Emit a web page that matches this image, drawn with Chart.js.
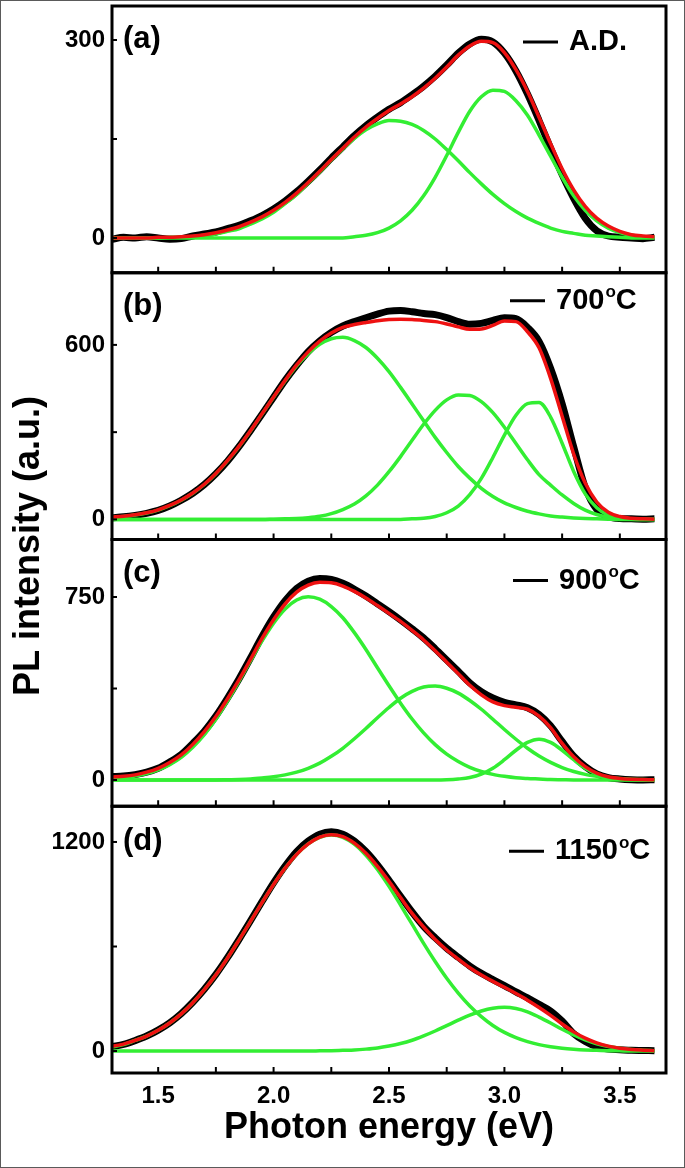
<!DOCTYPE html>
<html lang="en">
<head>
<meta charset="UTF-8">
<title>PL spectra</title>
<style>
    body { margin: 0; background: #fff; }
    #wrap { position: relative; width: 685px; height: 1168px; }
</style>
</head>
<body>
<div id="wrap"><canvas id="chart" width="685" height="1168"></canvas></div>

<script src="https://cdn.jsdelivr.net/npm/chart.js"></script>
<script>
// photon energy grid (eV)
const energy = [1.30,1.35,1.40,1.45,1.50,1.55,1.60,1.65, 1.70,1.75,1.80,1.85,1.90,1.95,2.00,2.05,
                2.10,2.15,2.20,2.25,2.30,2.35,2.40,2.45, 2.50,2.55,2.60,2.65,2.70,2.75,2.80,2.85,
                2.90,2.95,3.00,3.05,3.10,3.15,3.20,3.25, 3.30,3.35,3.40,3.45,3.50,3.55,3.60,3.65];

// (a) A.D.
const dataA  = [-2,1,0,2,0,-2,-1,3, 6,9,14,19,26,34,44,56, 70,86,103,121,138,155,170,183, 195,205,217,230,245,262,280,294, 301,297,280,253,218,178,136,96, 60,30,11,3,1,0,-1,1];
const fitA   = [0,0,0,0,1,1,2,3, 5,8,12,17,24,32,42,54, 68,84,101,119,136,153,168,181, 193,203,214,227,242,259,277,291, 298,296,281,255,222,183,143,105, 73,48,30,18,10,5,3,2];
const peakA1 = [0,0,0,0,0,1,1,2, 4,6,10,14,21,29,39,52, 66,83,100,118,135,151,164,173, 178,177,172,163,150,134,117,99, 82,66,52,40,30,22,15,10, 7,4,3,2,1,0,0,0];
const peakA2 = [0,0,0,0,0,0,0,0, 0,0,0,0,0,0,0,0, 0,0,0,0,0,2,4,8, 15,26,42,64,92,125,160,192, 214,224,222,208,186,156,124,92, 64,42,26,15,8,4,2,1];

// (b) 700 C
const dataB  = [6,9,14,21,31,46,66,90, 120,157,200,250,305,362,420,478, 530,577,614,643,665,680,693,706, 716,718,714,708,704,694,680,671, 674,684,693,690,660,612,520,398, 250,110,35,10,3,2,1,2];
const fitB   = [8,11,16,23,33,48,67,91, 121,158,202,251,305,363,421,478, 531,576,613,641,660,670,677,683, 687,688,687,684,680,672,662,654, 655,667,682,680,645,590,485,355, 225,125,60,25,10,4,2,1];
const peakB1 = [6,10,15,22,32,47,66,90, 120,157,201,250,304,362,420,476, 528,570,602,621,626,615,591,554, 508,454,397,339,282,230,182,142, 107,79,57,41,28,19,12,8, 5,3,2,1,0,0,0,0];
const peakB2 = [0,0,0,0,0,0,0,0, 0,0,0,0,0,0,1,2, 3,6,11,20,34,53,81,118, 164,216,272,327,375,411,428,426, 405,367,317,261,205,154,118,84, 55,32,17,8,4,2,1,0];
const peakB3 = [0,0,0,0,0,0,0,0, 0,0,0,0,0,0,0,0, 0,0,0,0,0,0,0,0, 0,0,2,4,10,23,46,85, 141,213,290,358,398,402,352,262, 165,88,40,14,4,1,0,0];

// (c) 900 C
const dataC  = [14,16,22,32,48,74,105,150, 200,262,335,414,500,588,668,735, 785,815,826,822,806,782,754,722, 690,656,620,582,538,492,446,398, 362,336,318,308,296,268,222,158, 98,55,25,10,4,1,0,1];
const fitC   = [12,15,21,32,48,72,103,146, 198,260,332,410,494,580,657,722, 770,799,810,808,795,773,746,715, 683,650,613,574,530,483,436,388, 349,320,305,298,290,262,215,150, 95,55,28,13,6,3,2,1];
const peakC1 = [5,9,16,26,41,63,93,134, 186,249,323,404,488,570,643,701, 738,751,741,711,665,604,535,460, 386,315,250,193,145,106,76,52, 35,23,15,9,6,4,2,1, 0,0,0,0,0,0,0,0];
const peakC2 = [0,0,0,0,0,0,0,0, 0,0,1,2,4,8,13,21, 32,48,69,97,130,169,211,255, 297,335,363,381,385,376,356,326, 290,249,207,167,130,98,72,51, 35,23,15,9,6,3,2,1];
const peakC3 = [0,0,0,0,0,0,0,0, 0,0,0,0,0,0,0,0, 0,0,0,0,0,0,0,0, 0,0,0,0,0,1,4,10, 24,48,83,122,154,167,154,122, 83,48,24,10,4,1,0,0];

// (d) 1150 C
const dataD  = [25,38,60,86,120,162,215,280, 355,440,536,640,748,858,965,1062, 1145,1205,1245,1258,1245,1205,1145,1068, 980,888,798,716,650,590,538,488, 446,410,376,340,305,268,230,172, 100,55,25,12,8,4,3,2];
const fitD   = [27,40,61,86,119,161,213,277, 352,437,533,637,744,852,956,1050, 1129,1189,1228,1242,1231,1193,1135,1060, 974,881,790,712,640,580,528,478, 436,400,366,330,292,250,205,155, 110,74,47,28,16,9,5,2];
const peakD1 = [24,37,61,86,119,161,213,277, 352,437,533,637,744,852,956,1050, 1129,1189,1227,1240,1227,1187,1124,1042, 945,838,728,618,514,418,333,259, 198,147,107,77,54,37,25,16, 10,6,4,2,1,0,0,0];
const peakD2 = [0,0,0,0,0,0,0,0, 0,0,0,0,0,0,0,0, 0,0,1,2,4,6,11,18, 29,43,62,87,115,146,177,206, 230,246,251,244,225,195,161,125, 92,64,42,26,16,9,5,2];

// labels and ticks
const panelTags = ['(a)', '(b)', '(c)', '(d)'];
const sampleNames = ['A.D.', '700°C', '900°C', '1150°C'];
const yTopTick = [300, 600, 750, 1200];
const xLabelTicks = [1.5, 2.0, 2.5, 3.0, 3.5];
const xMinorTicks = [1.5, 1.75, 2.0, 2.25, 2.5, 2.75, 3.0, 3.25, 3.5];

const panelData = [
    { data: dataA, fit: fitA, peaks: [peakA1, peakA2] },
    { data: dataB, fit: fitB, peaks: [peakB1, peakB2, peakB3] },
    { data: dataC, fit: fitC, peaks: [peakC1, peakC2, peakC3] },
    { data: dataD, fit: fitD, peaks: [peakD1, peakD2] }
];

// axis ranges and decoration placement
const axisIds = ['ya', 'yb', 'yc', 'yd'];
const yMin = [-52.7, -69, -107.6, -126];
const yMax = [351.5, 848, 985.7, 1405];
const tagDy = [33, 34, 33.5, 35];
const legendDy = [36, 28, 41, 45];
const legendX = [523, 510, 513, 509];

const FAMILY = "'Liberation Sans', Arial, sans-serif";
const tickFont = { family: FAMILY, size: 24, weight: 'bold' };

function pts(vals) {
    return energy.map((e, i) => ({ x: e, y: vals[i] }));
}

function series(vals, axis, color, width, order) {
    return {
        data: pts(vals), yAxisID: axis, borderColor: color, borderWidth: width,
        pointRadius: 0, cubicInterpolationMode: 'monotone', fill: false, order: order
    };
}

const datasets = [];
panelData.forEach((p, i) => {
    datasets.push(series(p.data, axisIds[i], '#000000', 7, 2));
    p.peaks.forEach(g => datasets.push(series(g, axisIds[i], '#33ee33', 3.5, 1)));
    datasets.push(series(p.fit, axisIds[i], '#ee1111', 3.5, 0));
});

const scales = {
    x: {
        type: 'linear', position: 'bottom', min: 1.3, max: 3.7,
        afterFit: s => { s.height = 95; s.paddingLeft = 0; s.paddingRight = 0; },
        afterBuildTicks: s => { s.ticks = xLabelTicks.map(v => ({ value: v })); },
        grid: { display: false, drawTicks: false },
        border: { display: false },
        ticks: { color: '#000', font: tickFont, padding: 9, callback: v => v.toFixed(1) },
        title: {
            display: true, text: 'Photon energy (eV)', color: '#000',
            font: { family: FAMILY, size: 36, weight: 'bold' },
            padding: { top: 0, bottom: 18 }
        }
    }
};
// left boxes are stacked last-first, so add (d) first and (a) last
for (let i = 3; i >= 0; i--) {
    scales[axisIds[i]] = {
        type: 'linear', position: 'left', stack: 'pl', stackWeight: 1,
        min: yMin[i], max: yMax[i],
        afterFit: s => { s.width = 112; s.paddingTop = 0; s.paddingBottom = 0; },
        afterBuildTicks: s => { s.ticks = [0, yTopTick[i] / 2, yTopTick[i]].map(v => ({ value: v })); },
        grid: { display: false, drawTicks: false },
        border: { display: false },
        ticks: {
            color: '#000', font: tickFont, padding: 7, autoSkip: false,
            callback: v => (v === yTopTick[i] / 2 ? '' : String(v))
        }
    };
}

function strokeLine(ctx, x1, y1, x2, y2) {
    ctx.beginPath();
    ctx.moveTo(x1, y1);
    ctx.lineTo(x2, y2);
    ctx.stroke();
}

const decor = {
    id: 'decor',
    beforeDraw(chart) {
        const ctx = chart.ctx;
        ctx.save();
        ctx.fillStyle = '#fff';
        ctx.fillRect(0, 0, chart.width, chart.height);
        ctx.strokeStyle = '#5a5a5a';
        ctx.lineWidth = 2;
        ctx.strokeRect(0, 0, chart.width, chart.height);
        ctx.restore();
    },
    afterDatasetsDraw(chart) {
        const ctx = chart.ctx;
        const x = chart.scales.x;
        ctx.save();
        ctx.strokeStyle = '#000';
        ctx.fillStyle = '#000';
        axisIds.forEach((id, i) => {
            const y = chart.scales[id];
            // frame
            ctx.lineWidth = 3;
            ctx.strokeRect(x.left, y.top, x.right - x.left, y.bottom - y.top);
            // inward ticks
            ctx.lineWidth = 2;
            xMinorTicks.forEach(v => {
                const px = x.getPixelForValue(v);
                strokeLine(ctx, px, y.bottom, px, y.bottom - 6);
            });
            y.ticks.forEach(t => {
                const py = y.getPixelForValue(t.value);
                strokeLine(ctx, x.left, py, x.left + 5, py);
            });
            // panel tag
            ctx.textBaseline = 'middle';
            ctx.textAlign = 'left';
            ctx.font = 'bold 31px ' + FAMILY;
            ctx.fillText(panelTags[i], x.left + 11, y.top + tagDy[i]);
            // legend entry
            const ly = y.top + legendDy[i];
            ctx.lineWidth = 3;
            strokeLine(ctx, legendX[i], ly, legendX[i] + 35, ly);
            let tx = legendX[i] + 46;
            const name = sampleNames[i];
            ctx.font = 'bold 29px ' + FAMILY;
            if (name.endsWith('°C')) {
                const num = name.slice(0, -2);
                ctx.fillText(num, tx, ly);
                tx += ctx.measureText(num).width + 1;
                ctx.font = 'bold 17px ' + FAMILY;
                ctx.fillText('o', tx, ly - 8);
                tx += ctx.measureText('o').width;
                ctx.font = 'bold 29px ' + FAMILY;
                ctx.fillText('C', tx, ly);
            } else {
                ctx.fillText(name, tx, ly);
            }
        });
        // y axis title spanning all panels
        ctx.translate(29, 546);
        ctx.rotate(-Math.PI / 2);
        ctx.textAlign = 'center';
        ctx.textBaseline = 'middle';
        ctx.font = 'bold 36px ' + FAMILY;
        ctx.fillText('PL intensity (a.u.)', 0, 0);
        ctx.restore();
    }
};

new Chart(document.getElementById('chart'), {
    type: 'line',
    data: { datasets: datasets },
    options: {
        responsive: false,
        animation: false,
        devicePixelRatio: 1,
        layout: { padding: { top: 6, right: 19, bottom: 0, left: 0 } },
        plugins: { legend: { display: false }, tooltip: { enabled: false } },
        scales: scales
    },
    plugins: [decor]
});
</script>
</body>
</html>
